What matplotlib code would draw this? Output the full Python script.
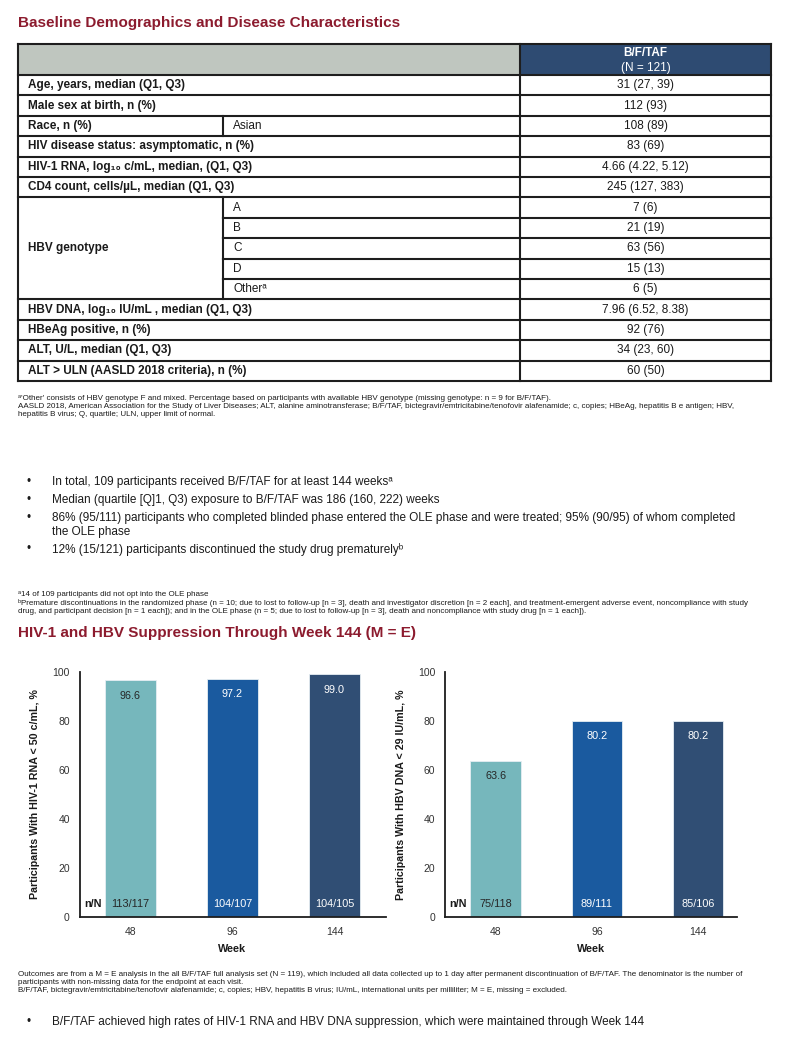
import matplotlib

matplotlib.use("Agg")
import matplotlib.pyplot as plt
from matplotlib.patches import Rectangle

plt.rcParams["font.family"] = ["Liberation Sans", "DejaVu Sans"]

# ---- colours ---------------------------------------------------------------
MAROON = "#8C1B2E"
NAVY = "#2E4B72"
HEAD_GREY = "#BFC6BF"
LINE = "#1E1E1E"
INK = "#1A1A1A"
BAR_COLORS = ["#76B7BC", "#1A5A9F", "#304E74"]
BAR_TEXT = ["#262626", "white", "white"]

# ---- table data --------------------------------------------------------------
ROW_LABELS = [
    "Age, years, median (Q1, Q3)",
    "Male sex at birth, n (%)",
    "Race, n (%)",
    "HIV disease status: asymptomatic, n (%)",
    "HIV-1 RNA, log₁₀ c/mL, median, (Q1, Q3)",
    "CD4 count, cells/µL, median (Q1, Q3)",
    "HBV genotype", "HBV genotype", "HBV genotype", "HBV genotype", "HBV genotype",
    "HBV DNA, log₁₀ IU/mL , median (Q1, Q3)",
    "HBeAg positive, n (%)",
    "ALT, U/L, median (Q1, Q3)",
    "ALT > ULN (AASLD 2018 criteria), n (%)",
]
SUB_LABELS = ["", "", "Asian", "", "", "", "A", "B", "C", "D", "Otherᵃ", "", "", "", ""]
VALUES = [
    "31 (27, 39)", "112 (93)", "108 (89)", "83 (69)", "4.66 (4.22, 5.12)",
    "245 (127, 383)", "7 (6)", "21 (19)", "63 (56)", "15 (13)", "6 (5)",
    "7.96 (6.52, 8.38)", "92 (76)", "34 (23, 60)", "60 (50)",
]

# ---- chart data --------------------------------------------------------------
WEEKS = ["48", "96", "144"]
HIV_PCT = [96.6, 97.2, 99.0]
HIV_NN = ["113/117", "104/107", "104/105"]
HBV_PCT = [63.6, 80.2, 80.2]
HBV_NN = ["75/118", "89/111", "85/106"]

TABLE_NOTES = [
    "ᵃ'Other' consists of HBV genotype F and mixed. Percentage based on participants with available HBV genotype (missing genotype: n = 9 for B/F/TAF).",
    "AASLD 2018, American Association for the Study of Liver Diseases; ALT, alanine aminotransferase; B/F/TAF, bictegravir/emtricitabine/tenofovir alafenamide; c, copies; HBeAg, hepatitis B e antigen; HBV,",
    "hepatitis B virus; Q, quartile; ULN, upper limit of normal.",
]
BULLETS = [
    ("•", "In total, 109 participants received B/F/TAF for at least 144 weeksᵃ"),
    ("•", "Median (quartile [Q]1, Q3) exposure to B/F/TAF was 186 (160, 222) weeks"),
    ("•", "86% (95/111) participants who completed blinded phase entered the OLE phase and were treated; 95% (90/95) of whom completed"),
    ("", "the OLE phase"),
    ("•", "12% (15/121) participants discontinued the study drug prematurelyᵇ"),
]
BULLET_NOTES = [
    "ᵃ14 of 109 participants did not opt into the OLE phase",
    "ᵇPremature discontinuations in the randomized phase (n = 10; due to lost to follow-up [n = 3], death and investigator discretion [n = 2 each], and treatment-emergent adverse event, noncompliance with study",
    "drug, and participant decision [n = 1 each]); and in the OLE phase (n = 5; due to lost to follow-up [n = 3], death and noncompliance with study drug [n = 1 each]).",
]
CHART_NOTES = [
    "Outcomes are from a M = E analysis in the all B/F/TAF full analysis set (N = 119), which included all data collected up to 1 day after permanent discontinuation of B/F/TAF. The denominator is the number of",
    "participants with non-missing data for the endpoint at each visit.",
    "B/F/TAF, bictegravir/emtricitabine/tenofovir alafenamide; c, copies; HBV, hepatitis B virus; IU/mL, international units per milliliter; M = E, missing = excluded.",
]
TAKEAWAY = "B/F/TAF achieved high rates of HIV-1 RNA and HBV DNA suppression, which were maintained through Week 144"

W, H = 808, 1041
fig = plt.figure(figsize=(W / 100, H / 100), dpi=100, facecolor="white")
page = fig.add_axes([0, 0, 1, 1])
page.set_xlim(0, W)
page.set_ylim(H, 0)
page.axis("off")


def notes(lines, y0, step=8.2):
    for k, line in enumerate(lines):
        page.text(18, y0 + k * step, line, fontsize=5.75, color=INK, va="center")


# ---- section 1: table ----------------------------------------------------------
page.text(18, 23, "Baseline Demographics and Disease Characteristics", color=MAROON,
          fontsize=11, fontweight="bold", va="center")

X0, XS, XV, X1 = 18, 223, 520, 771
HEAD_TOP, TOP, ROW_H = 44, 75, 20.4
n = len(VALUES)
bottom = TOP + n * ROW_H
page.add_patch(Rectangle((X0, HEAD_TOP), XV - X0, TOP - HEAD_TOP, fc=HEAD_GREY, ec="none"))
page.add_patch(Rectangle((XV, HEAD_TOP), X1 - XV, TOP - HEAD_TOP, fc=NAVY, ec="none"))
page.text((XV + X1) / 2, 53.5, "B/F/TAF", color="white", fontsize=8.5,
          fontweight="bold", ha="center", va="center")
page.text((XV + X1) / 2, 67.5, "(N = 121)", color="white", fontsize=8.5,
          ha="center", va="center")

hl = dict(color=LINE, lw=1.5, solid_capstyle="projecting")
page.plot([X0, X1], [HEAD_TOP] * 2, **hl)
for i in range(n + 1):
    y = TOP + i * ROW_H
    grouped = 0 < i < n and ROW_LABELS[i] == ROW_LABELS[i - 1]
    page.plot([XS if grouped else X0, X1], [y, y], **hl)
for x in (X0, XV, X1):
    page.plot([x, x], [HEAD_TOP, bottom], **hl)
for i, sub in enumerate(SUB_LABELS):
    if sub:
        page.plot([XS, XS], [TOP + i * ROW_H, TOP + (i + 1) * ROW_H], **hl)

# merged label cells: one label per run of equal ROW_LABELS
i = 0
while i < n:
    j = i
    while j + 1 < n and ROW_LABELS[j + 1] == ROW_LABELS[i]:
        j += 1
    ymid = TOP + (i + j + 1) * ROW_H / 2
    page.text(28, ymid, ROW_LABELS[i], fontsize=8.5, fontweight="bold", color=INK, va="center")
    i = j + 1
for i, (sub, val) in enumerate(zip(SUB_LABELS, VALUES)):
    yc = TOP + (i + 0.5) * ROW_H
    if sub:
        page.text(233, yc, sub, fontsize=8.5, color=INK, va="center")
    page.text((XV + X1) / 2, yc, val, fontsize=8.5, color=INK, ha="center", va="center")

notes(TABLE_NOTES, 398)

# ---- bullets -------------------------------------------------------------------
for (mark, line), y in zip(BULLETS, [482.5, 500.5, 518, 532.5, 549]):
    if mark:
        page.text(29, y, mark, fontsize=8.5, color=INK, ha="center", va="center")
    page.text(52, y, line, fontsize=8.5, color=INK, va="center")
notes(BULLET_NOTES, 595)

# ---- section 2: bar charts -----------------------------------------------------
page.text(18, 633, "HIV-1 and HBV Suppression Through Week 144 (M = E)", color=MAROON,
          fontsize=11, fontweight="bold", va="center")

AX_BOTTOM, AX_TOP = 917, 672


def bar_panel(left, right, unit, pct, nn, ylabel):
    ax = fig.add_axes([left / W, (H - AX_BOTTOM) / H, (right - left) / W,
                       (AX_BOTTOM - AX_TOP) / H])
    x = list(range(len(WEEKS)))
    ax.bar(x, pct, width=0.5, color=BAR_COLORS, edgecolor="#E6EEF3", linewidth=0.6)
    ax.set_xlim(-0.5, -0.5 + (right - left) / unit)
    ax.set_ylim(0, 100)
    ax.set_yticks(range(0, 101, 20))
    ax.set_xticks(x, WEEKS)
    for s in ("top", "right"):
        ax.spines[s].set_visible(False)
    for s in ("left", "bottom"):
        ax.spines[s].set_color(LINE)
        ax.spines[s].set_linewidth(1.3)
    ax.tick_params(length=0, labelsize=7.5, labelcolor="#333333", pad=7)
    for xi, v, lab, col in zip(x, pct, nn, BAR_TEXT):
        ax.text(xi, v - 6.2, f"{v:.1f}", ha="center", va="center", fontsize=7.8, color=col)
        ax.text(xi, 5.3, lab, ha="center", va="center", fontsize=7.8, color=col)
    ax.text(-0.37, 5.3, "n/N", ha="center", va="center", fontsize=7.8,
            fontweight="bold", color=INK)
    ax.set_xlabel("Week", fontsize=7.8, fontweight="bold", color=INK, va="center")
    ax.xaxis.set_label_coords(0.5, -32 / (AX_BOTTOM - AX_TOP))
    ax.set_ylabel(ylabel, fontsize=7.7, fontweight="bold", color=INK, va="center")
    ax.yaxis.set_label_coords(-44.5 / (right - left), 0.5)
    return ax


bar_panel(79.5, 385.5, 102, HIV_PCT, HIV_NN, "Participants With HIV-1 RNA < 50 c/mL, %")
bar_panel(445, 737, 101.25, HBV_PCT, HBV_NN, "Participants With HBV DNA < 29 IU/mL, %")

notes(CHART_NOTES, 974)
page.text(29, 1022, "•", fontsize=8.5, color=INK, ha="center", va="center")
page.text(52, 1022, TAKEAWAY, fontsize=8.5, color=INK, va="center")

fig.savefig("out.png", dpi=100, facecolor="white")
